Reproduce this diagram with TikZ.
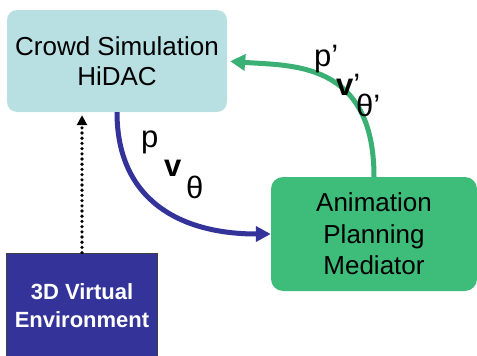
\documentclass[tikz,border=0pt]{standalone}
\usepackage{fontspec}
\setmainfont{Liberation Sans}
\usetikzlibrary{arrows.meta}
\definecolor{crowdblue}{RGB}{184,223,226}
\definecolor{medgreen}{RGB}{62,188,122}
\definecolor{arcgreen}{RGB}{58,176,116}
\definecolor{envblue}{RGB}{51,51,153}
\begin{document}
\begin{tikzpicture}[x=1pt,y=-1pt,
  crowdbox/.style={rectangle, rounded corners=10pt, fill=crowdblue, minimum width=220pt, minimum height=102pt, inner sep=0pt, align=center, font=\fontsize{26}{30}\selectfont},
  medbox/.style={rectangle, rounded corners=12pt, fill=medgreen, minimum width=206pt, minimum height=114pt, inner sep=0pt, align=center, font=\fontsize{26}{31.5}\selectfont},
  envbox/.style={rectangle, fill=envblue, draw=black!75, line width=0.8pt, minimum width=151pt, minimum height=106pt, inner sep=0pt, align=center, text=white, font=\fontsize{22}{28}\selectfont\bfseries},
  lab/.style={anchor=base west, inner sep=0pt, font=\fontsize{31}{31}\selectfont},
  dotarrow/.style={line width=3.6pt, line cap=round, dash pattern=on 0pt off 5.2pt, -{Triangle[length=10pt,width=10pt]}},
  bluearrow/.style={draw=envblue, line width=5pt, -{Triangle[length=15pt,width=15pt]}},
  greenarrow/.style={draw=arcgreen, line width=5pt, -{Triangle[length=15pt,width=16pt]}}
]
\clip (0,0) rectangle (477,356);
\node[crowdbox] (crowd) at (117,61) {Crowd Simulation\\HiDAC};
\node[medbox] (med) at (374,234) {Animation\\Planning\\ Mediator};
\node[envbox] (env) at (82,306) {3D Virtual\\Environment};
\draw[dotarrow, shorten >=3pt] (env.north) -- (env.north |- crowd.south);
\draw[bluearrow] (crowd.south) .. controls (117,200) and (180,234) .. (med.west);
\draw[greenarrow, shorten >=3pt] (med.north) .. controls (374,60) and (290,66) .. (crowd.east);
\node[lab] (p1) at (141,147.5) {p};
\node[lab] (v1) at (164,176) {\textbf{v}};
\node[lab] (t1) at (186,198) {θ};
\node[lab] (p2) at (314,66) {p’};
\node[lab] (v2) at (336,95) {\textbf{v}’};
\node[lab] (t2) at (356,116) {θ’};
\end{tikzpicture}
\end{document}
